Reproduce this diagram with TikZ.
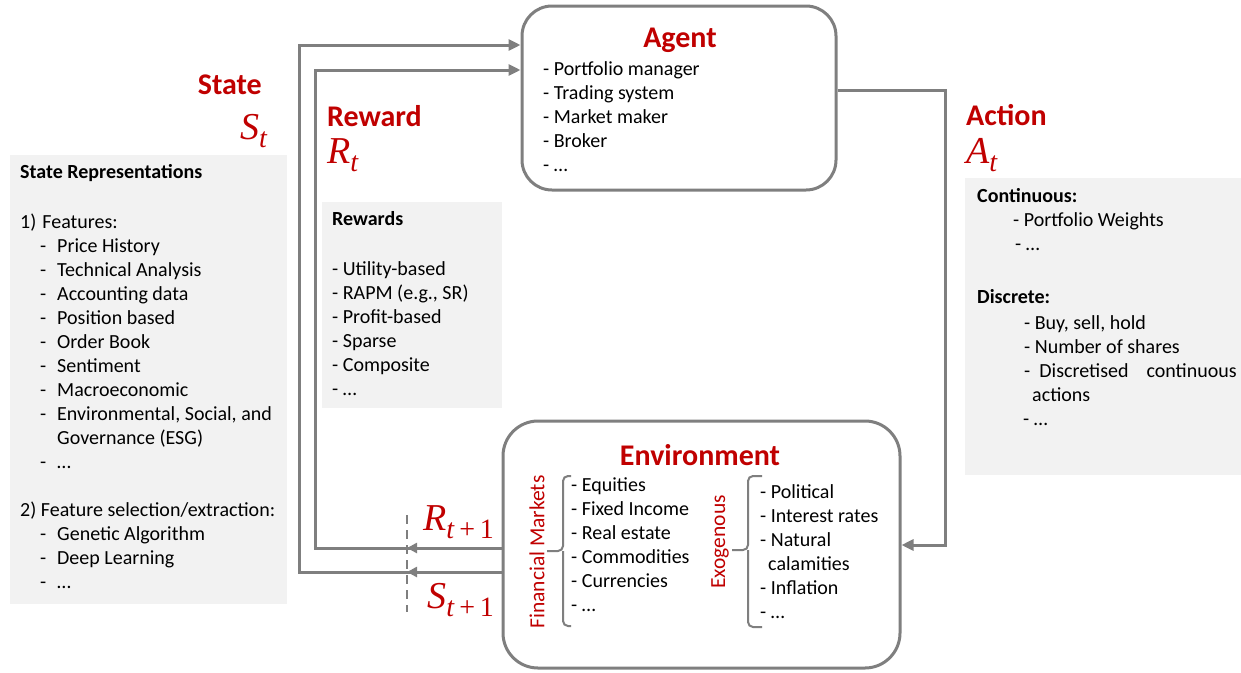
\documentclass[tikz,border=0pt]{standalone}
\usepackage{fontspec}
\setmainfont{Carlito}
\newfontfamily\labf{Liberation Serif}
\usetikzlibrary{arrows.meta}
\definecolor{dred}{RGB}{192,0,0}
\definecolor{lgray}{RGB}{127,127,127}
\definecolor{bgray}{RGB}{242,242,242}
\newcommand\fsn{\fontsize{20}{24}\selectfont}
\newcommand\fst{\fontsize{30}{34}\selectfont\bfseries}
\newcommand\fsm{\fontsize{38}{42}\selectfont}
\newcommand\dashitem[1]{\hspace*{20pt}\makebox[17pt][l]{-}#1}
\newcommand\vlab[2]{{\labf\itshape #1}\raisebox{-8pt}{\fontsize{28}{30}\selectfont\labf #2}}
\begin{document}
\begin{tikzpicture}[x=1pt,y=-1pt,
  mainbox/.style={draw=lgray, line width=3pt, fill=white, rectangle, rounded corners=30pt, inner sep=0pt},
  panel/.style={fill=bgray, inner sep=0pt, rectangle, anchor=north west},
  txt/.style={anchor=north west, align=left, inner sep=0pt, font=\fsn},
  ttl/.style={text=dred, font=\fst, inner sep=0pt},
  mth/.style={text=dred, font=\fsm, inner sep=0pt, text height=24pt, text depth=6pt},
  conn/.style={draw=lgray, line width=3pt, -{Triangle[length=12pt,width=11pt]}},
  midarrow/.style={draw=lgray, line width=3pt, -{Triangle[length=10pt,width=10pt]}},
  brc/.style={draw=lgray, line width=2pt, rounded corners=5pt},
  rot/.style={rotate=90, text=dred, font=\fontsize{21.5}{24}\selectfont, inner sep=0pt}
]
\useasboundingbox (0,0) rectangle (1241,672);

% grey panels
\node[panel, minimum width=277pt, minimum height=449pt] (stbox) at (10,155) {};
\node[panel, minimum width=180pt, minimum height=206pt] (rwbox) at (322,202) {};
\node[panel, minimum width=276pt, minimum height=297pt] (acbox) at (965,178) {};

% main boxes
\node[mainbox, minimum width=314pt, minimum height=184pt] (agent) at (679,98) {};
\node[mainbox, rounded corners=35pt, minimum width=397pt, minimum height=247pt] (env) at (701.5,544.5) {};

% connectors
\coordinate (sc) at (299,572);
\coordinate (sa) at (299,45);
\coordinate (rc) at (315,548);
\coordinate (ra) at (315,70);
\coordinate (ac1) at (945,90);
\coordinate (ac2) at (945,545);
\coordinate (dtop) at (407,515);
\coordinate (dbot) at (407,612);
\draw[conn] (env.west |- sc) -- (sc) -- (sa) -- (agent.west |- sa);
\draw[conn] (env.west |- rc) -- (rc) -- (ra) -- (agent.west |- ra);
\draw[conn] (agent.east |- ac1) -- (ac1) -- (ac2) -- (env.east |- ac2);
\draw[midarrow] (env.west |- sc) -- (dtop |- sc);
\draw[midarrow] (env.west |- rc) -- (dtop |- rc);
\draw[draw=lgray, line width=2pt, dash pattern=on 9pt off 6pt] (dtop) -- (dbot);

% titles
\node[ttl] (agt) at (680,40) {Agent};
\node[ttl] (envt) at (700,455) {Environment};
\node[ttl, anchor=east] (stl) at (262,85) {State};
\node[mth, anchor=east] (stm) at (267,130) {\vlab{S}{\itshape t}};
\node[ttl, anchor=west] (rwl) at (327,116) {Reward};
\node[mth, anchor=west] (rwm) at (327,154) {\vlab{R}{\itshape t}};
\node[ttl, anchor=west] (acl) at (966,115) {Action};
\node[mth, anchor=west] (acm) at (966,154) {\vlab{A}{\itshape t}};
\node[mth, anchor=east] (r1) at (494,521) {\vlab{R}{\textit{t}\,+\,1}};
\node[mth, anchor=east] (s1) at (494,599) {\vlab{S}{\textit{t}\,+\,1}};

% agent list
\node[txt] (agtx) at (543,58) {\strut- Portfolio manager\\- Trading system\\- Market maker\\- Broker\\- \dots};

% state list
\node[txt] (sttx) at (20,161) {\strut\textbf{State Representations}\\[2pt]
~\\
1)\hspace*{6pt}Features:\\
\dashitem{Price History}\\
\dashitem{Technical Analysis}\\
\dashitem{Accounting data}\\
\dashitem{Position based}\\
\dashitem{Order Book}\\
\dashitem{Sentiment}\\
\dashitem{Macroeconomic}\\
\dashitem{Environmental, Social, and}\\
\hspace*{37pt}Governance (ESG)\\
\dashitem{\dots}\\
~\\
2) Feature selection/extraction:\\
\dashitem{Genetic Algorithm}\\
\dashitem{Deep Learning}\\
\dashitem{\dots}};

% reward list
\node[txt] (rwtx) at (332,208) {\strut\textbf{Rewards}\\[2pt]
~\\
- Utility-based\\
- RAPM (e.g., SR)\\
- Profit-based\\
- Sparse\\
- Composite\\
- \dots};

% action list
\node[txt] (actx1) at (977,185) {\strut\textbf{Continuous:}\\
\hspace*{36pt}- Portfolio Weights\\
\hspace*{38pt}- \dots};
\node[txt] (actx2) at (977,286) {\strut\textbf{Discrete:}\\[2pt]
\hspace*{47pt}- Buy, sell, hold\\
\hspace*{47pt}- Number of shares\\
\hspace*{47pt}- \ Discretised\hspace{18pt}continuous\\
\hspace*{55pt}actions\\
\hspace*{46pt}- \dots};

% environment contents
\node[rot] (fm) at (537,552) {Financial Markets};
\node[rot] (exo) at (720,542) {Exogenous};
\coordinate (b1t) at (571,476);
\coordinate (b1b) at (571,626);
\coordinate (b1m) at (547,551);
\coordinate (b2t) at (762,476);
\coordinate (b2b) at (762,627);
\coordinate (b2m) at (732,550);
\draw[brc] (b1t) -- (563,476) -- (563,551) -- (b1m);
\draw[brc] (b1b) -- (563,626) -- (563,551);
\draw[brc] (b2t) -- (748,476) -- (748,550) -- (b2m);
\draw[brc] (b2b) -- (748,627) -- (748,550);
\node[txt] (fmtx) at (571,474) {\strut- Equities\\- Fixed Income\\- Real estate\\- Commodities\\- Currencies\\- \dots};
\node[txt] (exotx) at (760,481) {\strut- Political\\- Interest rates\\- Natural\\\hspace*{8pt}calamities\\- Inflation\\- \dots};
\end{tikzpicture}
\end{document}
